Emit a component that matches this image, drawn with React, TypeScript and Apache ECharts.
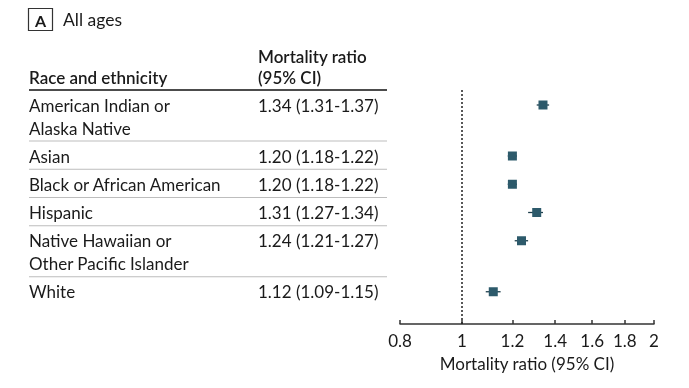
import React, { useEffect, useRef } from "react";
import * as echarts from "echarts";

const groups = [
  "American Indian or\nAlaska Native",
  "Asian",
  "Black or African American",
  "Hispanic",
  "Native Hawaiian or\nOther Pacific Islander",
  "White",
];
const ratios = [1.34, 1.2, 1.2, 1.31, 1.24, 1.12];
const lower = [1.31, 1.18, 1.18, 1.27, 1.21, 1.09];
const upper = [1.37, 1.22, 1.22, 1.34, 1.27, 1.15];
const xTicks = [0.8, 1, 1.2, 1.4, 1.6, 1.8, 2];

const FONT = "Lato";
const TXT = "#1a1a1a";
const MARK = "#2d5a6b";
const FS = 17;

export default function App() {
  const ref = useRef<HTMLDivElement>(null);
  useEffect(() => {
    if (!ref.current) return;
    const chart = echarts.init(ref.current, null, { renderer: "svg" });

    const gridTop = 90;
    const axisY = 324;
    const lineH = 22.75;
    const pad = 5.5;
    const rows: { top: number; lines: string[] }[] = [];
    let t = gridTop;
    groups.forEach((g) => {
      const lines = g.split("\n");
      rows.push({ top: t, lines });
      t += pad + lineH * lines.length;
    });
    const markY = rows.map((r) => r.top + 15 - gridTop);

    const graphics: any[] = [];
    graphics.push({
      type: "rect",
      shape: { x: 28.5, y: 8.5, width: 24, height: 22 },
      style: { fill: "none", stroke: "#333", lineWidth: 1.2 },
    });
    graphics.push({
      type: "text",
      style: { x: 40.5, y: 20, text: "A", font: `bold 16px ${FONT}`, fill: TXT, textAlign: "center", textVerticalAlign: "middle" },
    });
    graphics.push({
      type: "text",
      style: { x: 63, y: 19.5, text: "All ages", font: `17.5px ${FONT}`, fill: TXT, textAlign: "left", textVerticalAlign: "middle" },
    });
    graphics.push({
      type: "text",
      style: { x: 29, y: 77, text: "Race and ethnicity", font: `600 ${FS}px ${FONT}`, fill: TXT, textVerticalAlign: "middle" },
    });
    graphics.push({
      type: "text",
      style: { x: 258, y: 56, text: "Mortality ratio", font: `600 ${FS}px ${FONT}`, fill: TXT, textVerticalAlign: "middle" },
    });
    graphics.push({
      type: "text",
      style: { x: 258, y: 77, text: "(95% CI)", font: `600 ${FS}px ${FONT}`, fill: TXT, textVerticalAlign: "middle" },
    });
    graphics.push({
      type: "line",
      shape: { x1: 29, y1: gridTop, x2: 387, y2: gridTop },
      style: { stroke: "#111", lineWidth: 1.6 },
    });
    rows.forEach((r, i) => {
      if (i > 0) {
        graphics.push({
          type: "line",
          shape: { x1: 29, y1: r.top, x2: 387, y2: r.top },
          style: { stroke: "#bdbdbd", lineWidth: 1 },
        });
      }
      r.lines.forEach((ln, j) => {
        graphics.push({
          type: "text",
          style: { x: 29, y: r.top + 15 + j * 23, text: ln, font: `${FS}px ${FONT}`, fill: TXT, textVerticalAlign: "middle" },
        });
      });
      const ci = `${ratios[i].toFixed(2)} (${lower[i].toFixed(2)}-${upper[i].toFixed(2)})`;
      graphics.push({
        type: "text",
        style: { x: 258, y: r.top + 15, text: ci, font: `${FS}px ${FONT}`, fill: TXT, textVerticalAlign: "middle" },
      });
    });

    const data = ratios.map((r, i) => [r, markY[i], lower[i], upper[i]]);

    chart.setOption({
      animation: false,
      grid: { left: 400, right: 35, top: gridTop, height: axisY - gridTop },
      graphic: graphics,
      xAxis: {
        type: "log",
        logBase: 10,
        min: 0.8,
        max: 2,
        position: "bottom",
        name: "Mortality ratio (95% CI)",
        nameLocation: "middle",
        nameGap: 31,
        nameTextStyle: { fontFamily: FONT, fontSize: FS, color: TXT },
        axisLine: { onZero: false, lineStyle: { color: "#333", width: 1.5 } },
        axisTick: { inside: true, length: 4, lineStyle: { color: "#333", width: 1.5 }, customValues: xTicks },
        axisLabel: {
          customValues: xTicks,
          margin: 8,
          fontFamily: FONT,
          fontSize: FS,
          color: TXT,
          formatter: (v: number) => String(Math.round(v * 10) / 10),
        },
        splitLine: { show: false },
      },
      yAxis: {
        type: "value",
        min: 0,
        max: axisY - gridTop,
        inverse: true,
        show: false,
      },
      series: [
        {
          type: "custom",
          data,
          renderItem: (params: any, api: any) => {
            const y = api.value(1);
            const c = api.coord([api.value(0), y]);
            const l = api.coord([api.value(2), y]);
            const h = api.coord([api.value(3), y]);
            const s = 9;
            return {
              type: "group",
              children: [
                { type: "line", shape: { x1: l[0], y1: c[1], x2: h[0], y2: c[1] }, style: { stroke: "#1f3f4c", lineWidth: 1.3 } },
                { type: "rect", shape: { x: c[0] - s / 2, y: c[1] - s / 2, width: s, height: s }, style: { fill: MARK } },
              ],
            };
          },
          markLine: {
            silent: true,
            symbol: "none",
            label: { show: false },
            lineStyle: { type: [2, 2], color: "#222", width: 1.5 },
            data: [{ xAxis: 1 }],
          },
        },
      ],
    });
    return () => chart.dispose();
  }, []);
  return <div ref={ref} style={{ position: "fixed", left: 0, top: 0, width: 689, height: 388 }} />;
}
